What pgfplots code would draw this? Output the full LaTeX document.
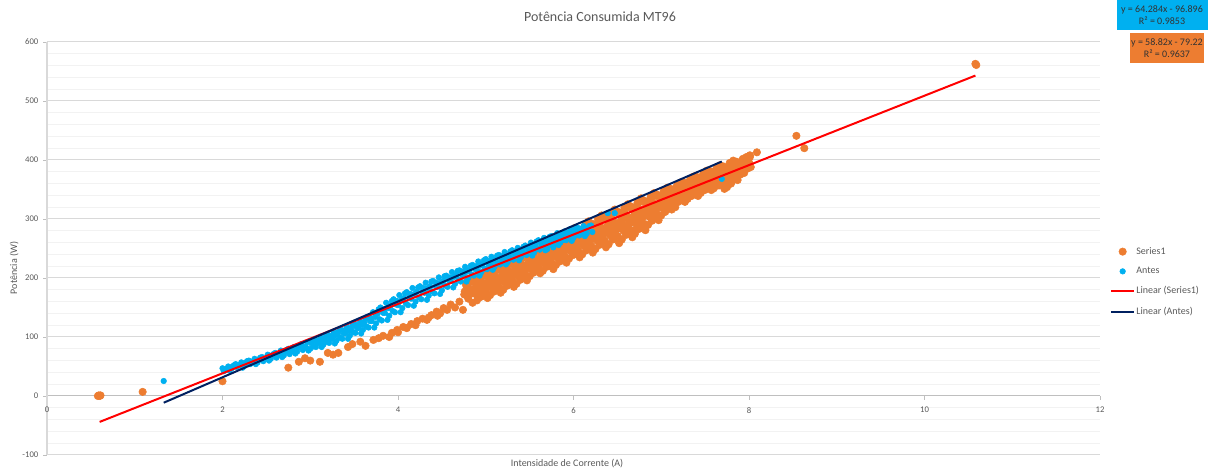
\documentclass[border=0pt]{standalone}
\usepackage{pgfplots}
\pgfplotsset{compat=1.18}
\usepackage{fontspec}
\setmainfont{Carlito}
\definecolor{sorange}{HTML}{ED7D31}
\definecolor{sblue}{HTML}{00B0F0}
\definecolor{snavy}{HTML}{002060}
\definecolor{txt}{HTML}{595959}
\definecolor{gmaj}{HTML}{D9D9D9}
\definecolor{gmin}{HTML}{F2F2F2}
\definecolor{axgray}{HTML}{BFBFBF}

\begin{document}
\begin{tikzpicture}
\begin{axis}[
  name=ax,
  scale only axis,
  width=789.75pt, height=309.75pt,
  xmin=0, xmax=12, ymin=-100, ymax=600,
  clip=false, clip marker paths=true,
  axis x line=middle, axis y line=left,
  x axis line style={-, draw=axgray, line width=0.75pt},
  y axis line style={-, draw=gmaj, line width=1pt},
  xtick={0,2,...,12}, xticklabels={0,2,4,6,8,10,12},
  ytick={-100,0,...,600}, yticklabels={-100,0,100,200,300,400,500,600},
  minor ytick={-80,-60,...,580},
  ymajorgrids, yminorgrids,
  major grid style={draw=gmaj, line width=0.75pt},
  minor grid style={draw=gmin, line width=0.75pt},
  tick align=outside,
  major tick length=3pt, minor tick length=0pt,
  tick style={draw=axgray, line width=0.6pt},
  hide obscured x ticks=false, hide obscured y ticks=false,
  ticklabel style={font=\fontsize{6.5}{7.5}\selectfont, text=txt},
  xticklabel style={yshift=-2pt},
  legend style={at={(rel axis cs:1.0095,0.507)}, anchor=north west, draw=none, fill=none,
    font=\fontsize{7.5}{9}\selectfont, text=txt, row sep=6.3pt, inner sep=0pt,
    nodes={inner sep=1pt}},
  legend cell align=left,
  oS/.style={only marks, mark=*, mark size=2.8pt, color=sorange},
  bS/.style={only marks, mark=*, mark size=2.1pt, color=sblue},
]
% ---------- Series1 (orange) ----------
\addplot[oS] coordinates {
(0.58,0) (0.59,1) (0.60,0) (0.61,1) (1.09,7) (2.00,25)
(2.75,48) (2.87,58) (2.94,64) (3.00,60) (3.11,58) (3.20,73) (3.26,70) (3.32,73)
(3.43,83) (3.48,88) (3.57,92) (3.63,85) (3.72,95) (3.78,98) (3.83,102) (3.90,100)
(3.93,107) (3.99,112) (4.00,108) (4.06,117) (4.10,115) (4.15,122) (4.20,120) (4.22,127)
(4.28,131) (4.33,129) (4.35,133) (4.38,137) (4.44,143) (4.45,136) (4.48,140) (4.52,149)
(4.56,146) (4.60,155) (4.65,150) (4.70,160) (4.74,146) (4.80,165) (4.85,158) (4.90,170)
(6.70,281) (7.16,320) (7.63,357) (8.01,408) (8.09,413) (8.54,441) (8.63,420) (10.58,563) (10.59,561)
};
\addlegendentry{Series1}
\addplot[oS, forget plot] coordinates {
(4.76,177) (4.78,193) (4.79,184)
(4.80,185) (4.82,198) (4.83,173)
(4.85,175) (4.86,196) (4.88,183) (4.89,193)
(4.90,162) (4.91,187) (4.92,174) (4.93,203) (4.94,194)
(4.95,195) (4.96,170) (4.97,208) (4.98,183) (4.99,174)
(5.00,184) (5.01,206) (5.02,166) (5.03,194) (5.04,204)
(5.05,171) (5.06,197) (5.07,183) (5.08,213) (5.09,204)
(5.10,205) (5.11,179) (5.12,219) (5.13,193) (5.14,184)
(5.15,194) (5.16,216) (5.17,175) (5.18,203) (5.19,214)
(5.20,180) (5.21,207) (5.22,192) (5.23,224) (5.24,214)
(5.25,215) (5.26,189) (5.27,229) (5.28,203) (5.29,194)
(5.30,204) (5.31,227) (5.32,185) (5.33,214) (5.34,224)
(5.35,190) (5.36,217) (5.37,202) (5.38,234) (5.39,224)
(5.40,226) (5.41,199) (5.42,240) (5.43,214) (5.44,204)
(5.45,215) (5.46,237) (5.47,196) (5.48,224) (5.49,235)
(5.50,203) (5.51,229) (5.52,215) (5.53,245) (5.54,236)
(5.55,237) (5.56,212) (5.57,250) (5.58,225) (5.59,216)
(5.60,226) (5.61,248) (5.62,208) (5.63,236) (5.64,246)
(5.65,212) (5.66,239) (5.67,224) (5.68,256) (5.69,246)
(5.70,247) (5.71,220) (5.72,261) (5.73,235) (5.74,225)
(5.75,235) (5.76,259) (5.77,215) (5.78,245) (5.79,256)
(5.80,222) (5.81,249) (5.82,234) (5.83,267) (5.84,257)
(5.85,258) (5.86,230) (5.87,273) (5.88,245) (5.89,235)
(5.90,246) (5.91,271) (5.92,226) (5.93,257) (5.94,268)
(5.95,233) (5.96,261) (5.97,245) (5.98,278) (5.99,268)
(6.00,269) (6.01,240) (6.02,285) (6.03,256) (6.04,245)
(6.05,256) (6.06,282) (6.07,235) (6.08,267) (6.09,278)
(6.10,240) (6.11,270) (6.12,254) (6.13,289) (6.14,278)
(6.15,279) (6.16,248) (6.17,296) (6.18,265) (6.19,254)
(6.20,265) (6.21,292) (6.22,243) (6.23,277) (6.24,289)
(6.25,249) (6.26,280) (6.27,263) (6.28,300) (6.29,289)
(6.30,289) (6.31,258) (6.32,306) (6.33,275) (6.34,263)
(6.35,275) (6.36,303) (6.37,252) (6.38,287) (6.39,300)
(6.40,257) (6.41,289) (6.42,272) (6.43,310) (6.44,298)
(6.45,298) (6.46,266) (6.47,316) (6.48,284) (6.49,272)
(6.50,283) (6.51,312) (6.52,259) (6.53,295) (6.54,308)
(6.55,265) (6.56,298) (6.57,280) (6.58,319) (6.59,307)
(6.60,307) (6.61,274) (6.62,325) (6.63,292) (6.64,280)
(6.65,293) (6.66,321) (6.67,269) (6.68,304) (6.69,317)
(6.70,275) (6.71,307) (6.72,290) (6.73,328) (6.74,316)
(6.75,317) (6.76,285) (6.77,335) (6.78,303) (6.79,291)
(6.80,304) (6.81,331) (6.82,281) (6.83,315) (6.84,328)
(6.85,290) (6.86,319) (6.87,303) (6.88,338) (6.89,328)
(6.90,328) (6.91,300) (6.92,344) (6.93,315) (6.94,305)
(6.95,318) (6.96,341) (6.97,298) (6.98,327) (6.99,338)
(7.00,306) (7.01,332) (7.02,318) (7.03,348) (7.04,339)
(7.05,340) (7.06,316) (7.07,353) (7.08,329) (7.09,321)
(7.10,332) (7.11,351) (7.12,316) (7.13,340) (7.14,349)
(7.15,324) (7.16,344) (7.17,333) (7.18,357) (7.19,350)
(7.20,351) (7.21,331) (7.22,362) (7.23,342) (7.24,334)
(7.25,344) (7.26,362) (7.27,329) (7.28,351) (7.29,359)
(7.30,334) (7.31,354) (7.32,343) (7.33,367) (7.34,360)
(7.35,361) (7.36,341) (7.37,372) (7.38,352) (7.39,345)
(7.40,353) (7.41,371) (7.42,339) (7.43,361) (7.44,369)
(7.45,344) (7.46,364) (7.47,353) (7.48,377) (7.49,370)
(7.50,371) (7.51,351) (7.52,382) (7.53,362) (7.54,355)
(7.55,363) (7.56,381) (7.57,349) (7.58,371) (7.59,379)
(7.60,352) (7.61,373) (7.62,361) (7.63,386) (7.64,379)
(7.65,379) (7.66,357) (7.67,391) (7.68,369) (7.69,361)
(7.70,368) (7.71,389) (7.72,351) (7.73,377) (7.74,386)
(7.75,354) (7.76,379) (7.77,366) (7.78,395) (7.79,386)
(7.80,387) (7.81,365) (7.82,399) (7.83,377) (7.84,369)
(7.85,380) (7.86,397) (7.87,366) (7.88,387) (7.89,395)
(7.90,375) (7.91,391) (7.92,382) (7.93,402) (7.94,396)
(7.95,398) (7.96,384) (7.97,405) (7.98,391) (7.99,386)
(8.00,396) (8.01,405) (8.02,388)
};
\addplot[oS, forget plot] coordinates {
(4.755,172) (4.775,188) (4.825,180) (4.845,194)
(4.875,177) (4.895,186) (4.905,182) (4.925,198) (4.945,168)
(4.955,179) (4.975,190) (4.995,204) (5.005,175) (5.025,187) (5.045,196)
(5.055,192) (5.075,208) (5.095,177) (5.105,188) (5.125,200) (5.145,214)
(5.155,184) (5.175,196) (5.195,206) (5.205,202) (5.225,219) (5.245,187)
(5.255,198) (5.275,210) (5.295,224) (5.305,195) (5.325,207) (5.345,216)
(5.355,212) (5.375,229) (5.395,197) (5.405,209) (5.425,221) (5.445,235)
(5.455,205) (5.475,217) (5.495,227) (5.505,224) (5.525,240) (5.545,209)
(5.555,221) (5.575,232) (5.595,246) (5.605,217) (5.625,229) (5.645,238)
(5.655,234) (5.675,251) (5.695,219) (5.705,230) (5.725,242) (5.745,256)
(5.755,225) (5.775,238) (5.795,248) (5.805,244) (5.825,262) (5.845,228)
(5.855,240) (5.875,253) (5.895,268) (5.905,236) (5.925,249) (5.945,259)
(5.955,256) (5.975,273) (5.995,239) (6.005,251) (6.025,264) (6.045,280)
(6.055,246) (6.075,259) (6.095,269) (6.105,265) (6.125,284) (6.145,247)
(6.155,260) (6.175,274) (6.195,290) (6.205,254) (6.225,268) (6.245,279)
(6.255,275) (6.275,294) (6.295,256) (6.305,269) (6.325,283) (6.345,300)
(6.355,264) (6.375,278) (6.395,290) (6.405,284) (6.425,304) (6.445,265)
(6.455,278) (6.475,292) (6.495,310) (6.505,271) (6.525,286) (6.545,298)
(6.555,292) (6.575,313) (6.595,273) (6.605,286) (6.625,301) (6.645,319)
(6.655,281) (6.675,296) (6.695,307) (6.705,302) (6.725,322) (6.745,283)
(6.755,297) (6.775,311) (6.795,329) (6.805,292) (6.825,307) (6.845,318)
(6.855,314) (6.875,333) (6.895,297) (6.905,310) (6.925,323) (6.945,339)
(6.955,308) (6.975,320) (6.995,330) (7.005,327) (7.025,343) (7.045,312)
(7.055,325) (7.075,336) (7.095,349) (7.105,324) (7.125,334) (7.145,342)
(7.155,341) (7.175,353) (7.195,329) (7.205,338) (7.225,347) (7.245,358)
(7.255,336) (7.275,346) (7.295,353) (7.305,351) (7.325,363) (7.345,339)
(7.355,349) (7.375,358) (7.395,368) (7.405,346) (7.425,355) (7.445,362)
(7.455,361) (7.475,373) (7.495,349) (7.505,359) (7.525,368) (7.545,378)
(7.555,356) (7.575,365) (7.595,372) (7.605,369) (7.625,382) (7.645,357)
(7.655,365) (7.675,375) (7.695,387) (7.705,360) (7.725,370) (7.745,379)
(7.755,375) (7.775,390) (7.795,360) (7.805,373) (7.825,383) (7.845,395)
(7.855,373) (7.875,382) (7.895,389) (7.905,388) (7.925,399) (7.945,378)
(7.955,389) (7.975,395) (7.995,403)
};
% ---------- Antes (blue) ----------
\addplot[bS] coordinates {
(1.33,25.4) (5.70,249) (5.77,252) (5.87,264) (5.99,273) (6.04,283) (6.39,310) (6.47,310) (7.69,368)
};
\addlegendentry{Antes}
\addplot[bS, forget plot] coordinates {
(2.000,47) (2.015,42) (2.030,45) (2.050,46) (2.065,50) (2.080,43)
(2.100,46) (2.115,50) (2.130,52) (2.150,54) (2.165,49) (2.180,52)
(2.200,52) (2.215,57) (2.230,48) (2.250,51) (2.265,56) (2.280,59)
(2.300,60) (2.315,54) (2.330,57) (2.350,58) (2.365,63) (2.380,54)
(2.400,57) (2.415,62) (2.430,65) (2.450,66) (2.465,59) (2.480,63)
(2.500,64) (2.515,70) (2.530,60) (2.550,63) (2.565,69) (2.580,71)
(2.600,73) (2.615,65) (2.630,70) (2.650,70) (2.665,77) (2.680,66)
(2.700,69) (2.715,75) (2.730,78) (2.750,80) (2.765,71) (2.780,76)
(2.800,76) (2.815,83) (2.830,72) (2.850,75) (2.865,82) (2.880,85)
(2.900,88) (2.915,78) (2.930,83) (2.950,83) (2.965,91) (2.980,77)
(3.000,80) (3.015,89) (3.030,93) (3.040,84) (3.050,95) (3.065,83) (3.080,90) (3.090,94)
(3.100,90) (3.115,100) (3.130,83) (3.140,95) (3.150,87) (3.165,97) (3.180,102) (3.190,92)
(3.200,104) (3.215,90) (3.230,98) (3.240,102) (3.250,97) (3.265,109) (3.280,89) (3.290,103)
(3.300,94) (3.315,106) (3.330,111) (3.340,99) (3.350,113) (3.365,97) (3.380,106) (3.390,111)
(3.400,106) (3.415,118) (3.430,97) (3.440,111) (3.450,102) (3.465,114) (3.480,120) (3.490,108)
(3.500,123) (3.515,107) (3.530,116) (3.540,120) (3.550,115) (3.565,128) (3.580,106) (3.590,121)
(3.600,112) (3.615,125) (3.630,131) (3.640,118) (3.650,134) (3.665,116) (3.680,127) (3.690,132)
(3.700,127) (3.715,142) (3.730,116) (3.740,134) (3.750,123) (3.765,139) (3.780,147) (3.790,130)
(3.800,150) (3.815,128) (3.830,141) (3.840,147) (3.850,141) (3.865,158) (3.880,129) (3.890,149)
(3.900,136) (3.915,153) (3.930,161) (3.940,144) (3.950,164) (3.965,142) (3.980,155) (3.990,161)
(4.000,154) (4.015,171) (4.030,142) (4.040,162) (4.050,149) (4.065,166) (4.080,174) (4.090,157)
(4.100,176) (4.115,154) (4.130,167) (4.140,173) (4.150,165) (4.165,183) (4.180,153) (4.190,173)
(4.200,160) (4.215,177) (4.230,184) (4.240,167) (4.250,186) (4.265,164) (4.280,177) (4.290,183)
(4.300,175) (4.315,192) (4.330,163) (4.340,183) (4.350,170) (4.365,186) (4.380,194) (4.390,177)
(4.400,195) (4.415,174) (4.430,186) (4.440,192) (4.450,185) (4.465,201) (4.480,173) (4.490,192)
(4.500,179) (4.515,195) (4.530,203) (4.540,187) (4.550,204) (4.565,185) (4.580,196) (4.590,201)
(4.600,195) (4.615,210) (4.630,184) (4.640,202) (4.650,190) (4.665,205) (4.680,212) (4.690,197)
(4.700,213) (4.715,194) (4.730,205) (4.740,211) (4.750,205) (4.765,219) (4.780,194) (4.790,211)
(4.800,200) (4.815,214) (4.830,221) (4.840,206) (4.850,222) (4.865,204) (4.880,215) (4.890,220)
(4.900,214) (4.915,228) (4.930,204) (4.940,221) (4.950,210) (4.965,224) (4.980,230) (4.990,216)
(5.000,232) (5.015,215) (5.030,224) (5.040,229) (5.050,223) (5.065,236) (5.080,214) (5.090,229)
(5.100,219) (5.115,232) (5.130,238) (5.140,225) (5.150,239) (5.165,223) (5.180,232) (5.190,237)
(5.200,232) (5.215,244) (5.230,223) (5.240,237) (5.250,227) (5.265,239) (5.280,245) (5.290,233)
(5.300,247) (5.315,231) (5.330,240) (5.340,245) (5.350,239) (5.365,251) (5.380,230) (5.390,244)
(5.400,235) (5.415,247) (5.430,253) (5.440,241) (5.450,255) (5.465,239) (5.480,248) (5.490,253)
(5.500,247) (5.515,260) (5.530,238) (5.540,253) (5.550,243) (5.565,256) (5.580,262) (5.590,249)
(5.600,264) (5.615,248) (5.630,257) (5.640,261) (5.650,256) (5.665,268) (5.680,247) (5.690,261)
(5.700,252) (5.715,264) (5.730,270) (5.740,258) (5.750,271) (5.765,256) (5.780,265) (5.790,269)
(5.800,264) (5.815,276) (5.830,256) (5.840,270) (5.850,260) (5.865,272) (5.880,277) (5.890,265)
(5.900,279) (5.915,264) (5.930,273) (5.940,277) (5.950,271) (5.965,283) (5.980,263) (5.990,277)
(6.000,268) (6.015,280) (6.030,285) (6.040,273) (6.050,285) (6.065,272) (6.080,279) (6.090,283)
(6.100,278) (6.115,288) (6.130,271) (6.140,283) (6.150,275) (6.165,284) (6.180,288)
(6.200,289) (6.215,278)
};
% ---------- trendlines ----------
\addplot[red, line width=1.5pt, no marks] coordinates {(0.6,-43.928) (10.58,543.096)};
\addlegendentry{Linear (Series1)}
\addplot[snavy, line width=1.5pt, no marks] coordinates {(1.33,-11.398) (7.69,397.448)};
\addlegendentry{Linear (Antes)}

\node[font=\fontsize{10.5}{12}\selectfont, text=txt] at (rel axis cs:0.5252,1.0605) {Potência Consumida MT96};
\node[font=\fontsize{7.5}{9}\selectfont, text=txt] at (rel axis cs:0.4938,-0.0218) {Intensidade de Corrente (A)};
\node[font=\fontsize{7.5}{9}\selectfont, text=txt, rotate=90] at (rel axis cs:-0.0313,0.4528) {Potência (W)};
\node[fill=sblue, minimum width=68.25pt, minimum height=22.5pt, inner sep=0pt, align=center,
  font=\fontsize{7.5}{9.5}\selectfont, text=black!80] at (rel axis cs:1.0589,1.0654) {y = 64.284x - 96.896\\R² = 0.9853};
\node[fill=sorange, minimum width=56pt, minimum height=23pt, inner sep=0pt, align=center,
  font=\fontsize{7.5}{9.5}\selectfont, text=black!80] at (rel axis cs:1.0636,0.9855) {y = 58.82x - 79.22\\R² = 0.9637};
\end{axis}
\pgfresetboundingbox
\path[use as bounding box] ([xshift=-35.25pt,yshift=-12.75pt]ax.south west) rectangle ([xshift=81pt,yshift=31.5pt]ax.north east);
\end{tikzpicture}
\end{document}
